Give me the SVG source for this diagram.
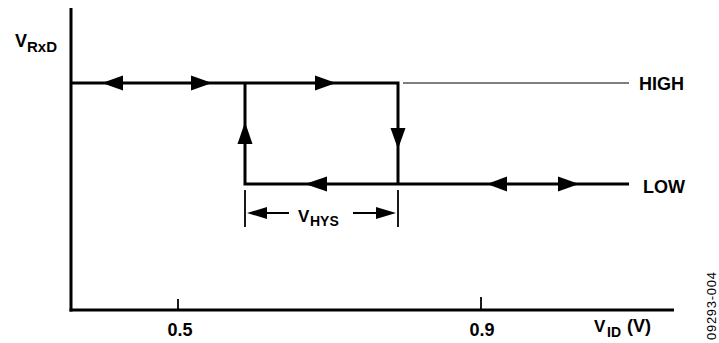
<svg xmlns="http://www.w3.org/2000/svg" width="719" height="343" viewBox="0 0 719 343">
<style>
.t{font-family:"Liberation Sans",Arial,sans-serif;font-weight:bold;fill:#000}
.thick{stroke:#000;stroke-width:3;fill:none}
.thin{stroke:#000;stroke-width:1.2;fill:none}
.dim{stroke:#000;stroke-width:1.8;fill:none}
.ah{fill:#000;stroke:none}
</style>
<rect width="719" height="343" fill="#fff"/>
<g id="axes">
<line class="thick" x1="71" y1="8" x2="71" y2="311.5"/>
<line class="thick" x1="69.5" y1="310" x2="674" y2="310"/>
<line class="dim" x1="178" y1="299" x2="178" y2="310"/>
<line class="dim" x1="481" y1="297" x2="481" y2="310"/>
<text class="t" x="15" y="47" font-size="18">V</text>
<text class="t" x="27" y="52" font-size="15">RxD</text>
<text class="t" x="180" y="336" font-size="18" text-anchor="middle">0.5</text>
<text class="t" x="482" y="336" font-size="18" text-anchor="middle">0.9</text>
<text class="t" x="594" y="332" font-size="17">V</text>
<text class="t" x="607" y="337" font-size="14">ID</text>
<text class="t" x="627" y="332" font-size="18">(V)</text>
</g>
<g id="connectors">
<polyline class="thick" points="71,83 398,83 398,184"/>
<polyline class="thick" points="245,83 245,184 629,184"/>
<line class="thin" x1="403" y1="83" x2="629" y2="83"/>
<path class="ah" d="M102,83 L123,75.5 L123,90.5 Z"/>
<path class="ah" d="M212,83 L191,75.5 L191,90.5 Z"/>
<path class="ah" d="M336,83 L315,75.5 L315,90.5 Z"/>
<path class="ah" d="M245,122 L237.5,144 L252.5,144 Z"/>
<path class="ah" d="M398,149 L390.5,128 L405.5,128 Z"/>
<path class="ah" d="M305,184 L327,176.5 L327,191.5 Z"/>
<path class="ah" d="M487,184 L507,176.5 L507,191.5 Z"/>
<path class="ah" d="M579,184 L558,176.5 L558,191.5 Z"/>
</g>
<g id="hys">
<line class="dim" x1="245" y1="190" x2="245" y2="227"/>
<line class="dim" x1="398" y1="190" x2="398" y2="227"/>
<line class="dim" x1="250" y1="213" x2="289" y2="213"/>
<line class="dim" x1="353" y1="213" x2="392" y2="213"/>
<path class="ah" d="M247,213 L267,207 L267,219 Z"/>
<path class="ah" d="M396,213 L376,207 L376,219 Z"/>
<text class="t" x="298" y="222" font-size="17">V</text>
<text class="t" x="310" y="226" font-size="14">HYS</text>
</g>
<g id="levels">
<text class="t" x="639" y="90" font-size="18">HIGH</text>
<text class="t" x="643" y="193" font-size="18">LOW</text>
</g>
<text x="716" y="340" font-size="13" transform="rotate(-90 716 340)" font-family="'Liberation Sans',Arial,sans-serif" fill="#000" textLength="68">09293-004</text>
</svg>
